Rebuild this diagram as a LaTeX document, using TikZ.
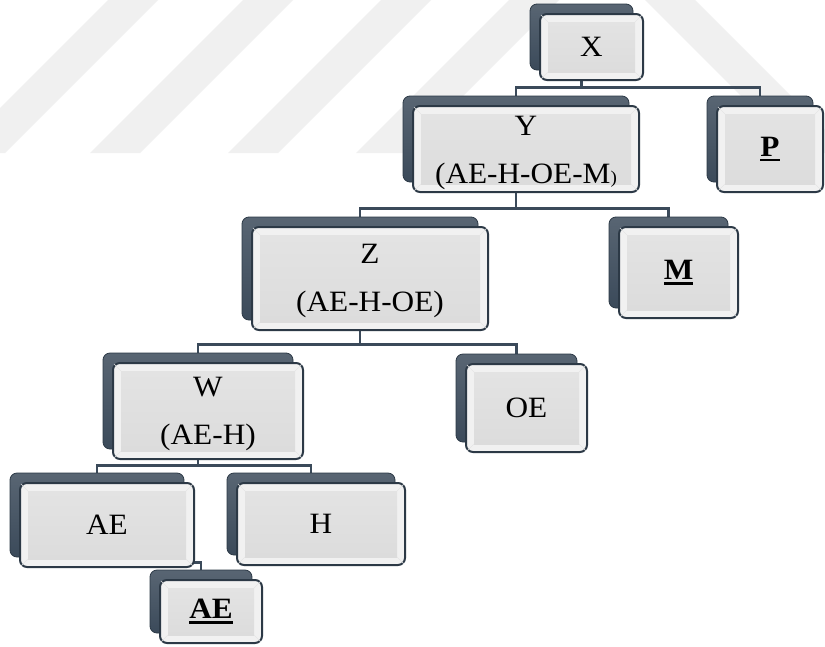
\documentclass[tikz,border=0pt]{standalone}
\usepackage{fontspec}
\setmainfont[FakeStretch=1.06]{Liberation Serif}
\definecolor{slate}{HTML}{3B4A5A}
\definecolor{slatedark}{HTML}{2C3946}
\definecolor{wm}{HTML}{F0F0F0}
\definecolor{bevelc}{HTML}{F1F1F1}
\definecolor{innerc}{HTML}{DCDCDC}
\pgfdeclarelayer{bg}
\pgfsetlayers{bg,main}
\tikzset{
 conn/.style={draw=slate, line width=2.6pt},
 backbox/.style={rectangle, rounded corners=7pt, draw=slatedark, line width=0.8pt,
   top color=slate!85!white, bottom color=slate, inner sep=0pt},
 frontbox/.style={rectangle, rounded corners=7pt, draw=slatedark, line width=2pt,
   fill=bevelc, inner sep=0pt},
 bevline/.style={draw=white!80!gray, line width=0.6pt},
 lbl/.style={font=\fontsize{29.5}{48}\selectfont, align=center, inner sep=0pt, text=black},
}
\newcommand\myul[1]{\setbox0\hbox{#1}\rlap{\rule[-5pt]{\wd0}{2.4pt}}\box0}
\newcommand\kutu[7]{%
  \node[backbox, minimum width=#4pt, minimum height=#5pt] (#1) at ({#2-10},{#3-10}) {};
  \node[frontbox, minimum width=#4pt, minimum height=#5pt] (#1f) at (#2,#3) {};
  \shade[top color=innerc!80!white, bottom color=innerc] ([shift={(9,9)}]#1f.north west) rectangle ([shift={(-9,-9)}]#1f.south east);
  \draw[bevline] ([shift={(2,2)}]#1f.north west) -- ([shift={(9,9)}]#1f.north west);
  \draw[bevline] ([shift={(-2,2)}]#1f.north east) -- ([shift={(-9,9)}]#1f.north east);
  \draw[bevline] ([shift={(2,-2)}]#1f.south west) -- ([shift={(9,-9)}]#1f.south west);
  \draw[bevline] ([shift={(-2,-2)}]#1f.south east) -- ([shift={(-9,-9)}]#1f.south east);
  \node[lbl] (#1t) at (#2,{#3+#7}) {#6};
}
\begin{document}
\begin{tikzpicture}[x=1pt,y=-1pt]
\useasboundingbox (0,0) rectangle (825,646);
% boxes
\kutu{X}{591.5}{47}{103}{66}{X}{0}
\kutu{Y}{526}{149}{226}{86}{Y\\(AE-H-OE-M{\fontsize{18}{20}\selectfont)}}{4}
\kutu{P}{770}{149}{106}{86}{\textbf{\myul{P}}}{0}
\kutu{Z}{370}{278.5}{236}{103}{Z\\(AE-H-OE)}{2}
\kutu{M}{678.5}{272.5}{119}{91}{\textbf{\myul{M}}}{0}
\kutu{W}{208}{411}{190}{96}{W\\(AE-H)}{3}
\kutu{OE}{526.5}{408}{121}{88}{OE}{0}
\kutu{AE}{107}{525}{174}{84}{AE}{0}
\kutu{H}{321}{524}{168}{82}{H}{0}
\kutu{AEb}{211}{611.5}{102}{63}{\textbf{\myul{AE}}}{0}
\begin{pgfonlayer}{bg}
  \fill[white] (0,0) rectangle (825,646);
  \begin{scope}
    \clip (0,0) rectangle (825,646);
    \foreach \a in {-45,90,228,356}
      \fill[wm] (\a,153) -- ({\a+50},153) -- ({\a+203},0) -- ({\a+153},0) -- cycle;
    \fill[wm] (645,0) -- (695,0) -- (848,153) -- (798,153) -- cycle;
  \end{scope}
  \draw[conn] (X.south) -- ++(0,17) -| (Y.north);
  \draw[conn] (X.south) -- ++(0,17) -| (P.north);
  \draw[conn] (Y.south) -- ++(0,26) -| (Z.north);
  \draw[conn] (Y.south) -- ++(0,26) -| (M.north);
  \draw[conn] (Z.south) -- ++(0,24) -| (W.north);
  \draw[conn] (Z.south) -- ++(0,24) -| (OE.north);
  \draw[conn] (W.south) -- ++(0,16) -| (AE.north);
  \draw[conn] (W.south) -- ++(0,16) -| (H.north);
  \draw[conn] (AE.south) -- ++(0,5) -| (AEb.north);
\end{pgfonlayer}
\end{tikzpicture}
\end{document}
